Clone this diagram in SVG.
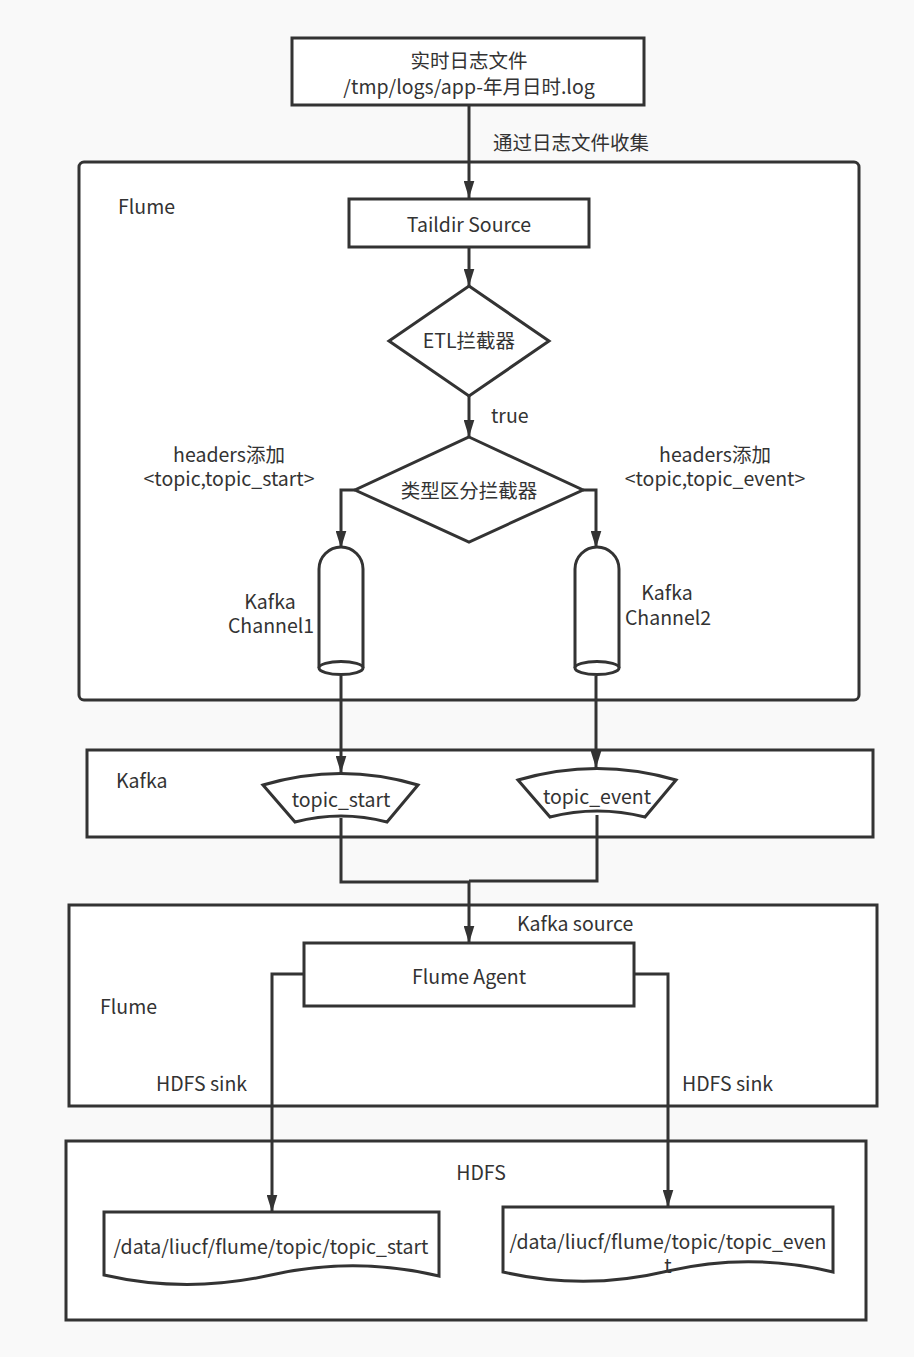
<svg xmlns="http://www.w3.org/2000/svg" width="914" height="1357" viewBox="0 0 914 1357">
<defs>
<marker id="arr" viewBox="0 0 16 10" refX="16" refY="5" markerWidth="17" markerHeight="11" markerUnits="userSpaceOnUse" orient="auto">
<path d="M0,0 L16,5 L0,10 z" fill="#333"/>
</marker>
<style>
.s{fill:#fff;stroke:#333;stroke-width:3}
.c{fill:none;stroke:#333;stroke-width:3}
.t{font-family:"Noto Sans CJK SC","Microsoft YaHei",sans-serif;font-size:19.5px;fill:#333}
.m{text-anchor:middle}
</style>
</defs>
<rect width="914" height="1357" fill="#f9f9f9"/>

<g id="flume1">
<rect class="s" x="79" y="162" width="780" height="538" rx="5"/>
<text class="t" x="118" y="214">Flume</text>
</g>
<g id="kafka">
<rect class="s" x="87" y="750" width="786" height="87"/>
<text class="t" x="116" y="788">Kafka</text>
</g>
<g id="flume2">
<rect class="s" x="69" y="905" width="808" height="201"/>
<text class="t" x="100" y="1014">Flume</text>
</g>
<g id="hdfs">
<rect class="s" x="66" y="1141" width="800" height="179"/>
<text class="t m" x="481" y="1180">HDFS</text>
</g>

<g id="connectors">
<path class="c" d="M469,105 V198" marker-end="url(#arr)"/>
<path class="c" d="M469,247 V286" marker-end="url(#arr)"/>
<path class="c" d="M469,396 V437" marker-end="url(#arr)"/>
<path class="c" d="M355,490 H341 V548" marker-end="url(#arr)"/>
<path class="c" d="M583,490 H596 V548" marker-end="url(#arr)"/>
<path class="c" d="M341,676 V773" marker-end="url(#arr)"/>
<path class="c" d="M596,676 V768" marker-end="url(#arr)"/>
<path class="c" d="M341,818 V882 H469 V943" marker-end="url(#arr)"/>
<path class="c" d="M597,815 V881 H469"/>
<path class="c" d="M304,974 H272 V1212" marker-end="url(#arr)"/>
<path class="c" d="M634,974 H668 V1207" marker-end="url(#arr)"/>
<text class="t" x="493" y="150">通过日志文件收集</text>
<text class="t" x="491" y="423">true</text>
<text class="t m" x="229" y="462">headers添加</text>
<text class="t m" x="229" y="486">&lt;topic,topic_start&gt;</text>
<text class="t m" x="715" y="462">headers添加</text>
<text class="t m" x="715" y="486">&lt;topic,topic_event&gt;</text>
<text class="t" x="517" y="931">Kafka source</text>
<text class="t" x="156" y="1091">HDFS sink</text>
<text class="t" x="682" y="1091">HDFS sink</text>
</g>

<g id="logfile">
<rect class="s" x="292" y="38" width="352" height="67"/>
<text class="t m" x="469" y="68">实时日志文件</text>
<text class="t m" x="469" y="94">/tmp/logs/app-年月日时.log</text>
</g>
<g id="taildir">
<rect class="s" x="349" y="199" width="240" height="48"/>
<text class="t m" x="469" y="232">Taildir Source</text>
</g>
<g id="etl">
<polygon class="s" points="469,286 549,341 469,396 389,341"/>
<text class="t m" x="469" y="348">ETL拦截器</text>
</g>
<g id="type">
<polygon class="s" points="469,437 583,490 469,542 355,490"/>
<text class="t m" x="469" y="498">类型区分拦截器</text>
</g>
<g id="channel1">
<path class="s" d="M319,668 V569 A22,22 0 0 1 363,569 V668"/>
<ellipse class="s" cx="341" cy="668" rx="22" ry="6.5"/>
<text class="t m" x="270" y="609">Kafka</text>
<text class="t m" x="271" y="633">Channel1</text>
</g>
<g id="channel2">
<path class="s" d="M575,668 V569 A22,22 0 0 1 619,569 V668"/>
<ellipse class="s" cx="597" cy="668" rx="22" ry="6.5"/>
<text class="t m" x="667" y="600">Kafka</text>
<text class="t m" x="668" y="625">Channel2</text>
</g>
<g id="topic_start">
<path class="s" d="M263,785 Q341,762 418,785 L387,822 Q341,810 295,822 Z"/>
<text class="t m" x="341" y="807">topic_start</text>
</g>
<g id="topic_event">
<path class="s" d="M518,780 Q597,757 676,780 L645,817 Q597,805 550,817 Z"/>
<text class="t m" x="597" y="804">topic_event</text>
</g>
<g id="agent">
<rect class="s" x="304" y="943" width="330" height="63"/>
<text class="t m" x="469" y="984">Flume Agent</text>
</g>
<g id="doc1">
<path class="s" d="M104,1212 H439 V1276 Q355,1256 271,1275 Q187,1294 104,1275 Z"/>
<text class="t m" x="271" y="1254">/data/liucf/flume/topic/topic_start</text>
</g>
<g id="doc2">
<path class="s" d="M503,1207 H833 V1272 Q750,1252 668,1271 Q585,1291 503,1272 Z"/>
<text class="t m" x="668" y="1249">/data/liucf/flume/topic/topic_even</text>
<text class="t m" x="668" y="1273">t</text>
</g>
</svg>
